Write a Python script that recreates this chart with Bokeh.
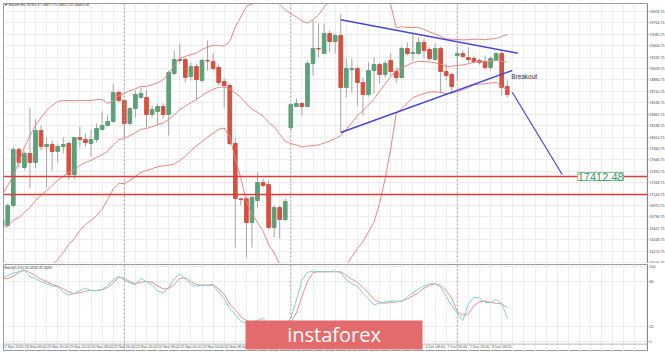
from bokeh.plotting import figure
from bokeh.models import (Range1d, FixedTicker, PrintfTickFormatter, Span, Label,
                          BoxAnnotation, ColumnDataSource)
from bokeh.layouts import column
from bokeh.embed import file_html
from bokeh.resources import INLINE
from bokeh.core.properties import value

# ---------------- data (Bitcoin, H4) ----------------
bars = list(range(92))
opens = [16665, 16665, 16970, 17824, 17550, 17763, 17626, 18114, 17870, 17900,
         17794, 17870, 17916, 17443, 18007, 17977, 17916, 17977, 18129, 18190,
         18251, 18694, 18572, 18221, 18450, 18617, 18617, 18358, 18404, 18480,
         18358, 18983, 19197, 19197, 18938, 19090, 18877, 19181, 19166, 19075,
         18861, 18800, 17916, 17070, 17077, 16711, 17046, 17321, 17291, 16635,
         16940, 16757, 18160, 18480, 18526, 18480, 19136, 19364, 19288, 19593,
         19471, 19563, 18770, 19044, 19060, 18846, 18663, 19029, 19120, 18968,
         19181, 19014, 18922, 19364, 19288, 19288, 19456, 19349, 19197, 19364,
         19014, 18968, 19258, 19288, 19227, 19212, 19181, 19166, 19075, 19197,
         19288, 18785]
highs = [16818, 17001, 17870, 17855, 17794, 18465, 18282, 18190, 18007, 17961,
         17916, 18007, 17946, 18015, 18175, 18068, 18129, 18221, 18404, 18343,
         18816, 18724, 18587, 18465, 18724, 18770, 18724, 18495, 18526, 18526,
         19029, 19334, 19441, 19227, 19151, 19136, 19212, 19487, 19288, 19120,
         18907, 18831, 18007, 17092, 17092, 17123, 17474, 17382, 17352, 16970,
         16970, 17077, 18526, 18602, 18541, 19181, 19792, 19746, 19746, 19639,
         19593, 19898, 19212, 19212, 19090, 18922, 19151, 19227, 19151, 19181,
         19288, 19075, 19395, 19456, 19593, 19532, 19517, 19380, 19441, 19395,
         19136, 18999, 19410, 19334, 19380, 19258, 19212, 19258, 19243, 19304,
         19334, 18877]
lows = [16589, 16635, 16940, 17550, 17519, 17230, 17535, 17809, 17245, 17504,
        17626, 17763, 17367, 17367, 17855, 17870, 17717, 17931, 18114, 18175,
        18236, 18541, 18007, 18190, 18312, 18602, 18160, 18312, 18190, 18297,
        18038, 18953, 19136, 18846, 18877, 18572, 18846, 19029, 19029, 18800,
        18465, 17885, 16330, 16970, 16177, 16330, 16940, 17245, 16604, 16482,
        16467, 16726, 18114, 18465, 18343, 18465, 18953, 19227, 19288, 19304,
        19288, 18083, 18617, 18694, 18495, 18343, 18633, 18678, 18831, 18922,
        18953, 18846, 18907, 19258, 19181, 19270, 19212, 19181, 19181, 18678,
        18877, 18694, 18877, 19227, 19151, 19136, 19120, 19044, 19029, 19181,
        18648, 18617]
closes = [16742, 16970, 17824, 17626, 17763, 17626, 18114, 17870, 17900, 17794,
          17870, 17900, 17443, 18007, 17977, 17931, 17977, 18145, 18190, 18251,
          18694, 18572, 18221, 18450, 18663, 18678, 18358, 18434, 18480, 18358,
          18999, 19197, 19181, 18922, 19090, 18892, 19181, 19174, 19060, 18846,
          18800, 17916, 17077, 17062, 16711, 17092, 17321, 17275, 16635, 16940,
          16757, 17031, 18511, 18526, 18480, 19136, 19364, 19357, 19593, 19471,
          19563, 18770, 19060, 19060, 18846, 18663, 19029, 19120, 18968, 19136,
          19014, 18922, 19364, 19288, 19304, 19456, 19334, 19212, 19364, 19014,
          18953, 18785, 19288, 19243, 19197, 19166, 19151, 19075, 19212, 19288,
          18770, 18663]

bb_upper = [17138, 17275, 17428, 17626, 17855, 18038, 18190, 18312, 18419, 18495,
            18556, 18571, 18571, 18571, 18571, 18571, 18571, 18587, 18587, 18527,
            18564, 18645, 18680, 18721, 18750, 18788, 18785, 18812, 18841, 18886,
            18988, 19097, 19215, 19245, 19271, 19296, 19349, 19386, 19413, 19413,
            19402, 19472, 19694, 19850, 20006, 20043, 20068, 20086, 20100, 20090,
            20039, 19953, 19897, 19846, 19785, 19752, 19807, 19877, 19996, 20087,
            20156, 20183, 20206, 20276, 20368, 20415, 20440, 20472, 20420, 20264,
            20032, 19682, 19697, 19685, 19685, 19686, 19654, 19616, 19588, 19550,
            19511, 19506, 19502, 19495, 19499, 19505, 19506, 19497, 19509, 19517,
            19550, 19580]
bb_mid = [16620, 16665, 16742, 16787, 16864, 16940, 17047, 17123, 17199, 17275,
          17352, 17413, 17474, 17519, 17580, 17626, 17657, 17702, 17748, 17795,
          17893, 17974, 17994, 18035, 18079, 18132, 18145, 18172, 18201, 18230,
          18286, 18350, 18437, 18483, 18540, 18587, 18648, 18700, 18742, 18773,
          18777, 18745, 18687, 18619, 18521, 18442, 18390, 18332, 18239, 18169,
          18056, 17948, 17914, 17894, 17864, 17876, 17885, 17894, 17922, 17952,
          17991, 18033, 18132, 18233, 18340, 18418, 18503, 18596, 18712, 18822,
          18935, 19029, 19072, 19110, 19151, 19168, 19166, 19159, 19146, 19124,
          19093, 19095, 19105, 19114, 19133, 19157, 19163, 19162, 19174, 19182,
          19169, 19156]
bb_lower = [16101, 16055, 16055, 15948, 15872, 15842, 15903, 15933, 15979, 16055,
            16147, 16253, 16375, 16467, 16589, 16680, 16741, 16818, 16909, 17063,
            17222, 17303, 17307, 17349, 17408, 17476, 17504, 17531, 17560, 17574,
            17585, 17603, 17659, 17720, 17807, 17878, 17946, 18014, 18071, 18132,
            18152, 18018, 17681, 17388, 17036, 16841, 16713, 16578, 16379, 16247,
            16074, 15943, 15932, 15942, 15942, 16000, 15964, 15912, 15848, 15817,
            15825, 15883, 16058, 16189, 16312, 16419, 16566, 16720, 17004, 17379,
            17836, 18376, 18447, 18535, 18617, 18649, 18678, 18701, 18704, 18696,
            18675, 18683, 18709, 18733, 18767, 18809, 18820, 18826, 18838, 18846,
            18788, 18732]

stoch_k = [84, 88, 91, 93, 95, 86, 84, 80, 77, 74,
           73, 66, 62, 64, 68, 71, 68, 68, 69, 75,
           82, 87, 82, 78, 76, 84, 80, 75, 67, 65,
           72, 84, 90, 83, 76, 74, 75, 75, 75, 66,
           57, 44, 36, 27, 24, 26, 28, 31, 22, 18,
           20, 24, 31, 55, 82, 92, 94, 93, 93, 93,
           94, 92, 82, 77, 74, 64, 57, 49, 51, 53,
           54, 54, 53, 60, 65, 70, 74, 77, 77, 73,
           60, 48, 38, 28, 50, 59, 58, 52, 52, 56,
           51, 31]
stoch_d = [84, 84, 87, 92, 95, 92, 88, 83, 80, 76,
           74, 70, 66, 64, 65, 67, 68, 68, 69, 72,
           78, 86, 84, 80, 77, 79, 80, 79, 74, 70,
           71, 76, 84, 85, 80, 76, 75, 75, 76, 70,
           63, 50, 42, 33, 28, 25, 25, 27, 24, 21,
           20, 22, 25, 38, 60, 80, 92, 93, 93, 93,
           93, 93, 88, 83, 79, 72, 65, 56, 52, 51,
           52, 53, 54, 57, 61, 65, 71, 75, 77, 75,
           68, 58, 40, 35, 37, 48, 53, 54, 52, 51,
           50, 45]

price_ticks = [16100.75, 16274.75, 16448.75, 16622.75, 16796.75, 16970.75, 17144.75,
               17318.75, 17492.75, 17666.75, 17840.75, 18014.75, 18188.75, 18362.75,
               18536.75, 18710.75, 18884.75, 19058.75, 19232.75, 19406.75, 19580.75,
               19754.75, 19928.75]
stoch_ticks = [0, 20, 80, 100]
week_starts = [22, 52, 82]
first_date_label = "17 Nov 2020"
date_bars = [6, 10, 14, 18, 22, 26, 30, 34, 38, 42, 46, 50, 54, 58, 62, 66, 70, 74, 78, 82, 86, 90]
date_labels = ["18 Nov 08:00", "19 Nov 00:00", "19 Nov 16:00", "20 Nov 08:00",
               "23 Nov 00:00", "23 Nov 16:00", "24 Nov 08:00", "25 Nov 00:00",
               "25 Nov 16:00", "26 Nov 08:00", "27 Nov 00:00", "27 Nov 16:00",
               "30 Nov 08:00", "1 Dec 00:00", "1 Dec 16:00", "2 Dec 08:00",
               "3 Dec 00:00", "3 Dec 16:00", "4 Dec 08:00", "7 Dec 00:00",
               "7 Dec 16:00", "8 Dec 08:00"]

levels = [17412.48, 17137.56]
target_price = 17412.48
bid_price = 18810.37
tri_top_x = [61.0, 92.9]
tri_top_y = [19802, 19293]
tri_bot_x = [61.0, 91.9]
tri_bot_y = [18083, 19029]
proj_x = [91.9, 100.9]
proj_y = [18698, 17443]
breakout_x, breakout_y = 91.7, 18930

title_text = "\u25bc Bitcoin,H4  18785.37 18877.75 18617.24 18663.58"
stoch_title = "Stoch(5,3,3) 31.0553 45.5009"

# ---------------- styling ----------------
FONT = "Liberation Sans"
GREEN = "#5ba078"
RED = "#d65041"
WICK = "#a4a4a4"
BB = "#e98585"
BLUE = "#4646dc"
LEVEL = "#e53935"
GRID = "#ededed"
TINY = "3.6px"

xr = Range1d(0.234, 116.27)
vgrid = list(range(0, 118, 2))

# ---------------- main price panel ----------------
p = figure(frame_width=644, frame_height=260, min_border_left=3, min_border_right=18,
           min_border_top=3, min_border_bottom=0, x_range=xr,
           y_range=Range1d(16085.75, 20050.75), x_axis_location=None,
           y_axis_location="right", toolbar_location=None, output_backend="svg")
p.outline_line_color = "#9a9a9a"
p.xgrid.ticker = FixedTicker(ticks=vgrid)
p.xgrid.grid_line_color = GRID
p.ygrid.grid_line_color = GRID
ax = p.yaxis[0]
ax.ticker = FixedTicker(ticks=price_ticks)
ax.formatter = PrintfTickFormatter(format="%.2f")
ax.major_label_text_font = FONT
ax.major_label_text_font_size = TINY
ax.major_label_text_color = "#444444"
ax.major_label_standoff = 1
ax.major_tick_out = 1
ax.major_tick_in = 0
ax.minor_tick_line_color = None
ax.axis_line_color = "#8a8a8a"
ax.major_tick_line_color = "#8a8a8a"

for w in week_starts:
    p.add_layout(Span(location=w, dimension="height", line_color="#a0a0a0",
                      line_dash="2 2", line_width=1))

up = [i for i in bars if closes[i] >= opens[i]]
dn = [i for i in bars if closes[i] < opens[i]]

wick_src = ColumnDataSource(dict(x=bars, h=highs, l=lows))
p.segment(x0="x", y0="h", x1="x", y1="l", source=wick_src, line_color=WICK, line_width=1)

up_src = ColumnDataSource(dict(x=up, top=[closes[i] for i in up], bottom=[opens[i] for i in up]))
dn_src = ColumnDataSource(dict(x=dn, top=[opens[i] for i in dn], bottom=[closes[i] for i in dn]))
p.vbar(x="x", top="top", bottom="bottom", width=0.66, source=up_src,
       fill_color=GREEN, line_color=GREEN, line_width=1)
p.vbar(x="x", top="top", bottom="bottom", width=0.66, source=dn_src,
       fill_color=RED, line_color=RED, line_width=1)

for band in (bb_upper, bb_mid, bb_lower):
    p.line(bars, band, line_color=BB, line_width=1)

for lv in levels:
    p.add_layout(Span(location=lv, dimension="width", line_color=LEVEL, line_width=1.6))

p.line(tri_top_x, tri_top_y, line_color=BLUE, line_width=1.5)
p.line(tri_bot_x, tri_bot_y, line_color=BLUE, line_width=1.5)
p.line(proj_x, proj_y, line_color=BLUE, line_width=1.2)

p.add_layout(Label(x=breakout_x, y=breakout_y, text="Breakout", text_font=FONT,
                   text_font_size="6.5px", text_color="#333333",
                   text_align="left", text_baseline="middle"))
p.add_layout(Label(x=103.7, y=target_price, text=f"{target_price:.2f}", text_font=FONT,
                   text_font_size="11px", text_color="#3a9a6c", text_align="left",
                   text_baseline="middle", background_fill_color="white",
                   border_line_color="#7cc49a", border_line_width=1))
p.add_layout(Label(x=0.35, y=20022, text=title_text, text_font=FONT, text_font_size=TINY,
                   text_color="#333333", text_align="left", text_baseline="middle"))

# axis boxes on the right
for lv in levels:
    p.add_layout(Label(x=116.62, y=lv, text=f"{lv:.2f}", text_font=FONT, text_font_size=TINY,
                       text_color="white", text_align="left", text_baseline="middle",
                       background_fill_color=LEVEL))
p.add_layout(Label(x=116.62, y=bid_price, text=f"{bid_price:.2f}", text_font=FONT,
                   text_font_size=TINY, text_color="white", text_align="left",
                   text_baseline="middle", background_fill_color="#4d4d4d"))

# ---------------- stochastic panel ----------------
s = figure(frame_width=644, frame_height=87, min_border_left=3, min_border_right=18,
           min_border_top=1, min_border_bottom=0, x_range=xr,
           y_range=Range1d(-13.33, 102.67), x_axis_location=None,
           y_axis_location="right", toolbar_location=None, output_backend="svg")
s.outline_line_color = "#9a9a9a"
s.xgrid.ticker = FixedTicker(ticks=vgrid)
s.xgrid.grid_line_color = GRID
s.ygrid.grid_line_color = "#dddddd"
s.ygrid.grid_line_dash = "2 2"
sax = s.yaxis[0]
sax.ticker = FixedTicker(ticks=stoch_ticks)
sax.major_label_text_font = FONT
sax.major_label_text_font_size = TINY
sax.major_label_text_color = "#444444"
sax.major_label_standoff = 1
sax.major_tick_out = 1
sax.major_tick_in = 0
sax.minor_tick_line_color = None
sax.axis_line_color = "#8a8a8a"
sax.major_tick_line_color = "#8a8a8a"

for w in week_starts:
    s.add_layout(Span(location=w, dimension="height", line_color="#a0a0a0",
                      line_dash="2 2", line_width=1))
s.add_layout(Span(location=-3.5, dimension="width", line_color="#b8b8b8", line_width=1))

s.line(bars, stoch_d, line_color="#ec8f8f", line_width=1)
s.line(bars, stoch_k, line_color="#7fd3cc", line_width=1)

s.text(x=[0.1], y=[-7.5], text=[first_date_label], text_font=value(FONT),
       text_font_size=TINY, text_color="#555555", text_align="left", text_baseline="middle")
s.text(x=date_bars, y=[-7.5] * len(date_bars), text=date_labels, text_font=value(FONT),
       text_font_size=TINY, text_color="#555555", text_align="center", text_baseline="middle")

s.add_layout(Label(x=0.35, y=98.3, text=stoch_title, text_font=FONT, text_font_size=TINY,
                   text_color="#333333", text_align="left", text_baseline="middle"))

# watermark
s.add_layout(BoxAnnotation(left=43.84, right=75.73, bottom=-10.67, top=28,
                           fill_color="#e36b6b", fill_alpha=1.0, line_color=None))
s.add_layout(Label(x=59.8, y=9.5, text="instaforex", text_font="Open Sans",
                   text_font_size="20px", text_color="white", text_align="center",
                   text_baseline="middle"))

layout = column(p, s, spacing=0)
open("out.html", "w").write(file_html(layout, INLINE))
